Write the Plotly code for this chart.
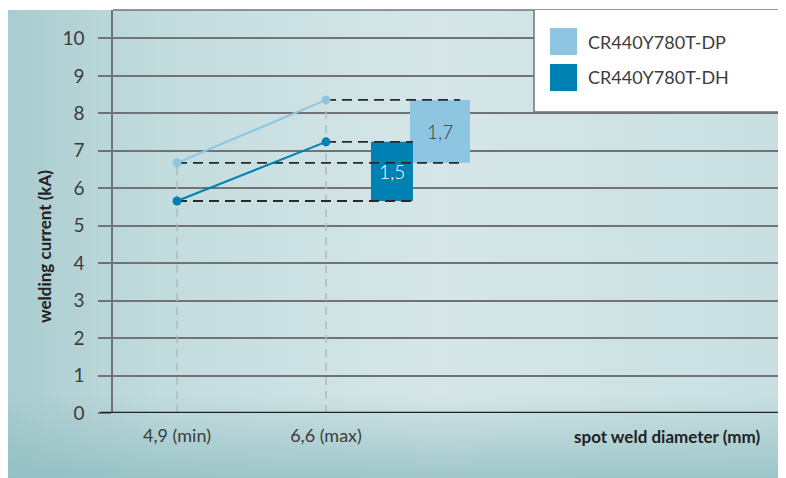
import base64
import plotly.graph_objects as go

# spot weld diameters (mm) and tick labels
diameters = [4.9, 6.6]
diameter_labels = ['4,9 (min)', '6,6 (max)']

# welding current (kA) at min / max diameter
series_names = ['CR440Y780T-DP', 'CR440Y780T-DH']
current_dp = [6.68, 8.36]
current_dh = [5.66, 7.24]
range_labels = ['1,7', '1,5']

y_ticks = [0, 1, 2, 3, 4, 5, 6, 7, 8, 9, 10]

col_dp = '#8ec6e2'
col_dh = '#0081b3'
font_family = 'Lato, "Noto Sans", sans-serif'
text_col = '#3c3c3c'

# x positions of the range boxes (layout only)
box_dp = (7.558, 8.243)
box_dh = (7.113, 7.592)
dash_end_dp = 8.13
dash_end_dh = 7.592

fig = go.Figure()

# grey vertical guides down from the points
for i, d in enumerate(diameters):
    top = max(current_dp[i], current_dh[i])
    fig.add_trace(go.Scatter(
        x=[d, d], y=[0, top], mode='lines',
        line=dict(color='#b4b8ba', width=1.5, dash='8px,6px'),
        hoverinfo='skip', showlegend=False
    ))

# range boxes
for vals, (x0, x1), col in [(current_dp, box_dp, col_dp), (current_dh, box_dh, col_dh)]:
    fig.add_trace(go.Scatter(
        x=[x0, x1, x1, x0, x0], y=[vals[0], vals[0], vals[1], vals[1], vals[0]],
        mode='lines', fill='toself', fillcolor=col, line=dict(width=0),
        hoverinfo='skip', showlegend=False
    ))

# black dashed level lines
for vals, end in [(current_dp, dash_end_dp), (current_dh, dash_end_dh)]:
    for i, d in enumerate(diameters):
        fig.add_trace(go.Scatter(
            x=[d, end], y=[vals[i], vals[i]], mode='lines',
            line=dict(color='#2a2a2a', width=1.8, dash='10px,6px'),
            hoverinfo='skip', showlegend=False
        ))

# the two series
fig.add_trace(go.Scatter(
    x=diameters, y=current_dp, name=series_names[0], mode='lines+markers',
    line=dict(color=col_dp, width=2), marker=dict(size=9, color=col_dp),
    showlegend=False
))
fig.add_trace(go.Scatter(
    x=diameters, y=current_dh, name=series_names[1], mode='lines+markers',
    line=dict(color=col_dh, width=2), marker=dict(size=9, color=col_dh),
    showlegend=False
))

# box labels
fig.add_annotation(x=sum(box_dp) / 2, y=sum(current_dp) / 2, text=range_labels[0],
                   showarrow=False, font=dict(family=font_family, size=19, color=text_col, weight=300))
fig.add_annotation(x=sum(box_dh) / 2, y=sum(current_dh) / 2, text=range_labels[1],
                   showarrow=False, font=dict(family=font_family, size=19, color='white', weight=300))

# background gradient
svg = '''<svg xmlns="http://www.w3.org/2000/svg" width="778" height="468" preserveAspectRatio="none">
<defs>
<linearGradient id="h" x1="0" y1="0" x2="1" y2="0">
<stop offset="0" stop-color="#a9cccf"/>
<stop offset="0.2" stop-color="#c3dcde"/>
<stop offset="0.55" stop-color="#d6e6e8"/>
<stop offset="1" stop-color="#c8dfe1"/>
</linearGradient>
<linearGradient id="v" x1="0" y1="0" x2="0" y2="1">
<stop offset="0" stop-color="#8dbcc0" stop-opacity="0"/>
<stop offset="0.82" stop-color="#8dbcc0" stop-opacity="0"/>
<stop offset="1" stop-color="#8dbcc0" stop-opacity="0.75"/>
</linearGradient>
</defs>
<rect width="778" height="468" fill="url(#h)"/>
<rect width="778" height="468" fill="url(#v)"/>
</svg>'''
bg_src = 'data:image/svg+xml;base64,' + base64.b64encode(svg.encode()).decode()

# the page body adds an 8px offset, so screen positions are converted relative to the plot area
plot_w = 786 - 113
plot_h = 413 - 10


def px(xs):
    return (xs - 113) / plot_w


def py(ys):
    return (413 - ys) / plot_h


fig.add_layout_image(dict(
    source=bg_src, xref='paper', yref='paper',
    x=px(8), y=1, sizex=778 / plot_w, sizey=468 / plot_h,
    xanchor='left', yanchor='top', sizing='stretch', layer='below'
))

grey = '#717476'
# baseline, top border
fig.add_shape(type='line', xref='paper', yref='y', x0=px(100), x1=1, y0=0, y1=0,
              line=dict(color='#222222', width=2.5))
fig.add_shape(type='line', xref='paper', yref='paper', x0=0, x1=1, y0=1, y1=1,
              line=dict(color=grey, width=1.5))

# legend box
lx0 = px(534)
ly0 = py(112)
fig.add_shape(type='rect', xref='paper', yref='paper', x0=lx0, x1=1, y0=ly0, y1=1,
              fillcolor='white', line=dict(width=0), layer='above')
fig.add_shape(type='line', xref='paper', yref='paper', x0=lx0, x1=lx0, y0=ly0, y1=1,
              line=dict(color=grey, width=1.5))
fig.add_shape(type='line', xref='paper', yref='paper', x0=lx0, x1=1, y0=ly0, y1=ly0,
              line=dict(color=grey, width=1.5))
for k, (name, col) in enumerate(zip(series_names, [col_dp, col_dh])):
    top = 28 + 36 * k
    fig.add_shape(type='rect', xref='paper', yref='paper',
                  x0=px(550), x1=px(577), y0=py(top + 27), y1=py(top),
                  fillcolor=col, line=dict(width=0), layer='above')
    fig.add_annotation(xref='paper', yref='paper', x=px(586), y=py(top + 13.5),
                       text=name, showarrow=False, xanchor='left', yanchor='middle',
                       font=dict(family=font_family, size=18, color=text_col))

# axis titles
fig.add_annotation(xref='paper', yref='paper', x=px(44), y=py(247),
                   text='welding current (kA)', textangle=-90, showarrow=False,
                   xanchor='center', yanchor='middle',
                   font=dict(family=font_family, size=17, color='#222222', weight='bold'))
fig.add_annotation(xref='paper', yref='paper', x=px(762), y=py(436),
                   text='spot weld diameter (mm)', showarrow=False, xanchor='right', yanchor='middle',
                   font=dict(family=font_family, size=17, color='#222222', weight='bold'))

fig.update_layout(
    width=778, height=470,
    margin=dict(l=105, r=0, t=2, b=65),
    paper_bgcolor='white',
    plot_bgcolor='rgba(0,0,0,0)',
    showlegend=False,
    xaxis=dict(
        range=[4.170, 11.848], tickvals=diameters, ticktext=diameter_labels,
        showgrid=False, zeroline=False, showline=False, ticks='',
        ticklabelstandoff=10,
        tickfont=dict(family=font_family, size=18, color=text_col)
    ),
    yaxis=dict(
        range=[0, 10.76], tickvals=y_ticks,
        showgrid=True, gridcolor=grey, gridwidth=1.5,
        zeroline=False, showline=True, linecolor=grey, linewidth=1.5,
        ticks='outside', ticklen=13, tickcolor=grey, tickwidth=1.5,
        ticklabelstandoff=10,
        tickfont=dict(family=font_family, size=19, color=text_col)
    ),
)

# keep the page from scrolling (the body margin would otherwise push it past the window)
fig.write_html('out.html', post_script="document.body.style.overflow='hidden';")
